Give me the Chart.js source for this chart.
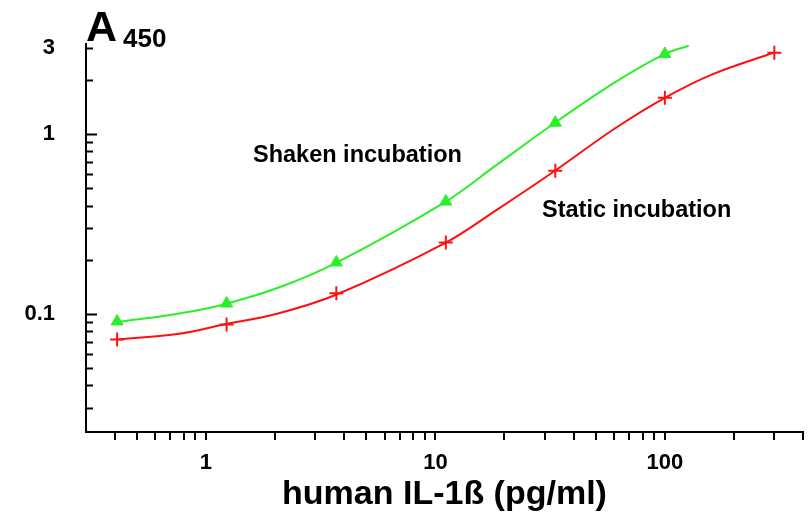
<!DOCTYPE html>
<html>
<head>
<meta charset="utf-8">
<script src="https://cdn.jsdelivr.net/npm/chart.js@4"></script>
<style>
  html, body { margin: 0; padding: 0; background: #fff; }
  #wrap { width: 812px; height: 515px; }
</style>
</head>
<body>
<div id="wrap"><canvas id="chart" width="812" height="515"></canvas></div>
<script>
// standards (pg/ml), 3-fold dilutions
const doses = [0.41, 1.23, 3.7, 11.1, 33.3, 100, 300];
const shakenPoints = [0.0906, 0.114, 0.193, 0.421, 1.156, 2.79];
const staticPoints = [0.072, 0.0872, 0.13, 0.249, 0.625, 1.59, 2.83];

// fitted curves
const shakenCurveX = [0.409, 0.765, 1.17, 2.06, 3.71, 11.1, 18.3, 33.2, 60.3, 100, 127];
const shakenCurveY = [0.0898, 0.1004, 0.112, 0.1395, 0.1927, 0.421, 0.667, 1.155, 1.93, 2.79, 3.1];
const staticCurveX = [0.409, 0.765, 1.17, 2.06, 3.71, 11.1, 18.3, 33.2, 60.3, 100, 163, 298];
const staticCurveY = [0.072, 0.0775, 0.0866, 0.1004, 0.128, 0.249, 0.375, 0.625, 1.07, 1.59, 2.16, 2.83];

// axis ticks
const xLabelTicks = [1, 10, 100];
const xMinorTicks = [0.4, 0.5, 0.6, 0.7, 0.8, 0.9, 1, 2, 3, 4, 5, 6, 7, 8, 9, 10, 20, 30, 40, 50, 60, 70, 80, 90, 100, 200, 300, 400];
const yLabelTicks = [0.1, 1, 3];
const yMinorTicks = [0.03, 0.04, 0.05, 0.06, 0.07, 0.08, 0.09, 0.1, 0.2, 0.3, 0.4, 0.5, 0.6, 0.7, 0.8, 0.9, 1, 2, 3];
const yMajor = [0.1, 1];

const GREEN = "#2bef2b";
const RED = "#ff1010";
const FONT = "'Liberation Sans', Arial, sans-serif";

const pts = (xs, ys) => xs.map((x, i) => ({ x, y: ys[i] }));

// ticks inside / outside like the original plot + title and labels
const decor = {
  id: "decor",
  afterDraw(chart) {
    const ctx = chart.ctx;
    const xs = chart.scales.x, ys = chart.scales.y;
    const area = chart.chartArea;
    ctx.save();
    ctx.strokeStyle = "#000";
    ctx.lineWidth = 2;
    yMinorTicks.forEach((v) => {
      const py = Math.round(ys.getPixelForValue(v)) + 0.5;
      const len = yMajor.includes(v) ? 11 : 7;
      ctx.beginPath();
      ctx.moveTo(area.left, py);
      ctx.lineTo(area.left + len, py);
      ctx.stroke();
    });
    xMinorTicks.forEach((v) => {
      const px = Math.round(xs.getPixelForValue(v));
      ctx.beginPath();
      ctx.moveTo(px, area.bottom);
      ctx.lineTo(px, area.bottom + 8);
      ctx.stroke();
    });

    ctx.fillStyle = "#000";
    ctx.textBaseline = "alphabetic";
    ctx.textAlign = "left";
    ctx.font = "bold 43px " + FONT;
    ctx.fillText("A", 86, 41);
    ctx.font = "bold 26px " + FONT;
    ctx.fillText("450", 123, 47);

    ctx.font = "bold 23.5px " + FONT;
    ctx.textBaseline = "middle";
    ctx.fillText("Shaken incubation", 253, 156);
    ctx.fillText("Static incubation", 542, 211);
    ctx.restore();
  },
};

new Chart(document.getElementById("chart"), {
  type: "scatter",
  data: {
    datasets: [
      {
        label: "Shaken curve",
        data: pts(shakenCurveX, shakenCurveY),
        showLine: true,
        borderColor: GREEN,
        borderWidth: 2,
        pointRadius: 0,
        tension: 0.35,
      },
      {
        label: "Shaken incubation",
        data: pts(doses.slice(0, shakenPoints.length), shakenPoints),
        pointStyle: "triangle",
        pointRadius: 7,
        backgroundColor: GREEN,
        borderColor: GREEN,
        borderWidth: 1,
      },
      {
        label: "Static curve",
        data: pts(staticCurveX, staticCurveY),
        showLine: true,
        borderColor: RED,
        borderWidth: 2,
        pointRadius: 0,
        tension: 0.35,
      },
      {
        label: "Static incubation",
        data: pts(doses, staticPoints),
        pointStyle: "cross",
        pointRadius: 7,
        borderColor: RED,
        borderWidth: 2,
      },
    ],
  },
  options: {
    responsive: false,
    animation: false,
    devicePixelRatio: 1,
    layout: { padding: { top: 43, right: 1, left: 0, bottom: 0 } },
    plugins: {
      legend: { display: false },
      tooltip: { enabled: false },
    },
    scales: {
      x: {
        type: "logarithmic",
        min: 0.3,
        max: 400,
        grid: { display: false, drawTicks: false },
        border: { display: true, color: "#000", width: 2 },
        afterBuildTicks: (s) => { s.ticks = xLabelTicks.map((v) => ({ value: v })); },
        afterFit: (s) => { s.height = 83; },
        ticks: {
          autoSkip: false,
          maxRotation: 0,
          padding: 18,
          color: "#000",
          font: { family: FONT, size: 22, weight: "bold" },
          callback: (v) => String(v),
        },
        title: {
          display: true,
          text: "human IL-1ß (pg/ml)",
          color: "#000",
          font: { family: FONT, size: 34, weight: "bold" },
          padding: { top: 0, bottom: 0 },
        },
      },
      y: {
        type: "logarithmic",
        min: 0.022,
        max: 3.16,
        grid: { display: false, drawTicks: false },
        border: { display: true, color: "#000", width: 2 },
        afterBuildTicks: (s) => { s.ticks = yLabelTicks.map((v) => ({ value: v })); },
        afterFit: (s) => { s.width = 86; },
        ticks: {
          autoSkip: false,
          padding: 31,
          color: "#000",
          font: { family: FONT, size: 22, weight: "bold" },
          callback: (v) => String(v),
        },
      },
    },
  },
  plugins: [decor],
});
</script>
</body>
</html>
